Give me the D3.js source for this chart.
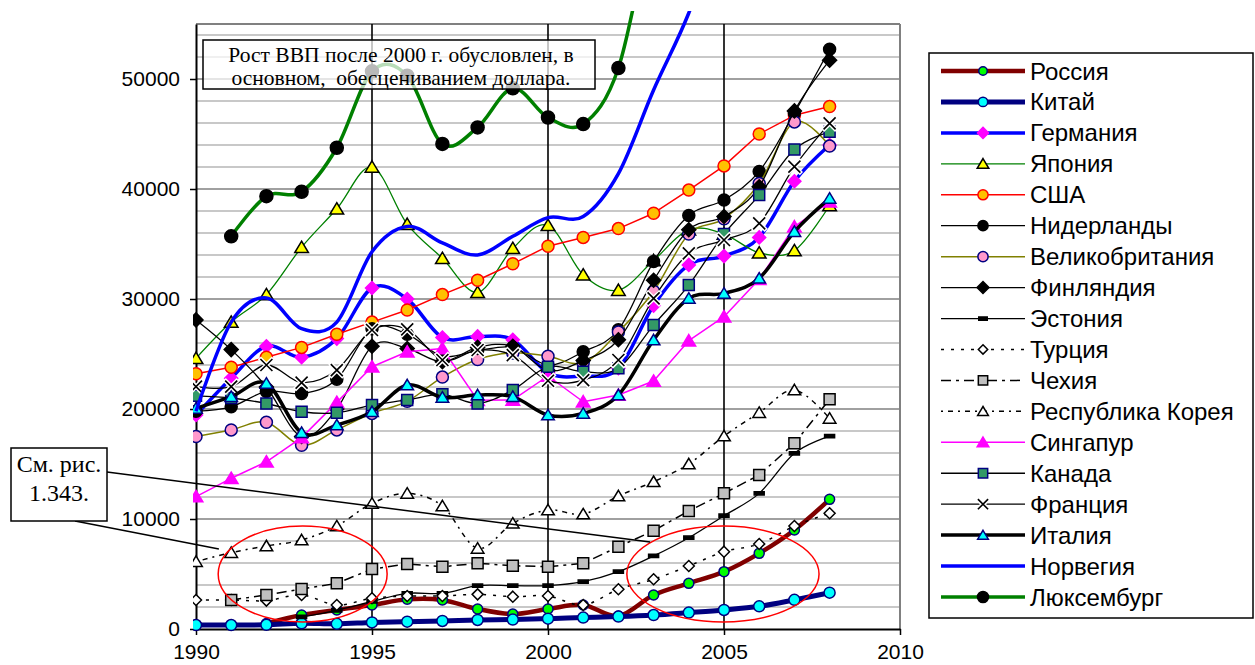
<!DOCTYPE html>
<html>
<head>
<meta charset="utf-8">
<script src="https://cdn.jsdelivr.net/npm/d3@7"></script>
<style>
body { margin: 0; background: #fff; }
svg { display: block; }
text { font-family: Arial, "Liberation Sans", sans-serif; }
text.serif { font-family: "Liberation Serif", "Times New Roman", serif; white-space: pre; }
</style>
</head>
<body>
<div id="chart-area"></div>
<script>
// DATA (ВВП на душу населения, долл.)

let years = [1990, 1991, 1992, 1993, 1994, 1995, 1996, 1997, 1998, 1999, 2000, 2001, 2002, 2003, 2004, 2005, 2006, 2007, 2008]

let russia      = [null, null, 500, 1270, 1730, 2180, 2700, 2640, 1820, 1360, 1820, 2180, 1180, 3090, 4150, 5210, 6880, 9000, 11790]
let china       = [360, 360, 380, 520, 470, 600, 670, 730, 820, 860, 940, 1040, 1130, 1270, 1490, 1730, 2060, 2650, 3300]
let germany     = [19450, 22800, 25700, 24700, 26400, 31000, 30000, 26500, 26600, 26300, 23300, 23000, 23700, 29400, 33100, 33900, 35600, 40700, 44000]
let japan       = [24600, 27900, 30400, 34700, 38200, 42000, 36800, 33700, 30600, 34600, 36700, 32200, 30800, 33500, 36300, 35900, 34200, 34400, 38500]
let usa         = [23200, 23800, 24700, 25600, 26800, 27900, 29000, 30400, 31700, 33200, 34800, 35600, 36400, 37800, 39900, 42100, 45000, 46700, 47500]
let netherlands = [19800, 20200, 21600, 21400, 22700, 27300, 26800, 24800, 25300, 25600, 24000, 25200, 27200, 33400, 37600, 39000, 41600, 46900, 52700]
let uk          = [17500, 18100, 18800, 16700, 18100, 19600, 20700, 22900, 24500, 25100, 24800, 24200, 27000, 30700, 35900, 37300, 40500, 46100, 43900]
let finland     = [28100, 25400, 22000, 17500, 20000, 25700, 25500, 24300, 25600, 25700, 23500, 24400, 26300, 31700, 36300, 37500, 40200, 47100, 51700]
let estonia     = [null, null, null, 1100, 1700, 2500, 3240, 3240, 3940, 3940, 3940, 4300, 5210, 6640, 8300, 10300, 12330, 15970, 17540]
let turkey      = [2640, 2640, 2580, 3090, 2180, 2790, 3000, 3000, 3150, 2940, 3000, 2180, 3610, 4520, 5730, 7030, 7730, 9360, 10520]
let czech       = [null, 2640, 3090, 3640, 4150, 5450, 5910, 5660, 5970, 5760, 5660, 5970, 7480, 8940, 10730, 12330, 14000, 16880, 20880]
let korea       = [6120, 6940, 7550, 8090, 9360, 11420, 12330, 11180, 7330, 9610, 10820, 10450, 12090, 13390, 15000, 17540, 19670, 21730, 19150]
let singapore   = [12030, 13700, 15200, 17400, 20600, 23840, 25200, 25500, 20800, 20820, 23000, 20660, 21270, 22540, 26210, 28390, 31800, 36570, 38840]
let canada      = [21200, 21000, 20500, 19750, 19660, 20360, 20820, 21330, 20510, 21730, 23840, 23390, 23700, 27630, 31270, 35900, 39450, 43600, 45200]
let france      = [22030, 22030, 24000, 22400, 23540, 27180, 27240, 24450, 25360, 24900, 22570, 22630, 24450, 30060, 34150, 35360, 36880, 42030, 45970]
let italy       = [20060, 21120, 22330, 17850, 18540, 19750, 22180, 21060, 21270, 21120, 19450, 19600, 21270, 26270, 30060, 30510, 31880, 36120, 39150]
let norway      = [19800, 27900, 30100, 27300, 27900, 34300, 36600, 35100, 34000, 35700, 37400, 37500, 41400, 49000, 56000, 65000, 72000, 83000, 95000]
let luxembourg  = [null, 35700, 39350, 39750, 43750, 50700, 50300, 44100, 45600, 49150, 46500, 45900, 51000, 65000, 75000, 80000, 90000, 105000, 113000]

let xTicks = [1990, 1995, 2000, 2005, 2010]
let yTicks = [0, 10000, 20000, 30000, 40000, 50000]

let noteText = ["Рост ВВП после 2000 г. обусловлен, в", "основном,  обесцениванием доллара."]
let refText = ["См. рис.", "1.343."]

// series styles, same order as the legend
let series = [
    {name: "Россия", values: russia, color: "#800000", width: 4.5, smooth: true,
        marker: {type: "circle", size: 5, fill: "#00ff00", stroke: "#000080"}},
    {name: "Китай", values: china, color: "#000080", width: 5, smooth: true,
        marker: {type: "circle", size: 5.5, fill: "#00ffff", stroke: "#000080"}},
    {name: "Германия", values: germany, color: "#0000ff", width: 3.5, smooth: true,
        marker: {type: "diamond", size: 6.5, fill: "#ff00ff", stroke: "#ff00ff"}},
    {name: "Япония", values: japan, color: "#008000", width: 1.3, smooth: true,
        marker: {type: "triangle", size: 6.5, fill: "#ffff00", stroke: "#000000"}},
    {name: "США", values: usa, color: "#ff0000", width: 1.5, smooth: false,
        marker: {type: "circle", size: 6, fill: "#ffc000", stroke: "#ff0000"}},
    {name: "Нидерланды", values: netherlands, color: "#000000", width: 1.3, smooth: true,
        marker: {type: "circle", size: 6, fill: "#000000", stroke: "#000000"}},
    {name: "Великобритания", values: uk, color: "#808000", width: 1.5, smooth: true,
        marker: {type: "circle", size: 6, fill: "#ff99cc", stroke: "#000080"}},
    {name: "Финляндия", values: finland, color: "#000000", width: 1.3, smooth: true,
        marker: {type: "diamond", size: 7, fill: "#000000", stroke: "#000000"}},
    {name: "Эстония", values: estonia, color: "#000000", width: 1.3, smooth: true,
        marker: {type: "dash", size: 5, fill: "#000000", stroke: "#000000"}},
    {name: "Турция", values: turkey, color: "#000000", width: 1.5, smooth: true, dash: "3,7",
        marker: {type: "diamond", size: 5.5, fill: "#ffffff", stroke: "#000000"}},
    {name: "Чехия", values: czech, color: "#000000", width: 1.5, smooth: false, dash: "10,5,3,5",
        marker: {type: "square", size: 5.5, fill: "#c0c0c0", stroke: "#000000"}},
    {name: "Республика Корея", values: korea, color: "#000000", width: 1.5, smooth: true, dash: "2,5,5,5",
        marker: {type: "triangle", size: 6, fill: "#ffffff", stroke: "#000000"}},
    {name: "Сингапур", values: singapore, color: "#ff00ff", width: 1.5, smooth: false,
        marker: {type: "triangle", size: 6.5, fill: "#ff00ff", stroke: "#ff00ff"}},
    {name: "Канада", values: canada, color: "#000000", width: 1.3, smooth: true,
        marker: {type: "square", size: 5.5, fill: "#339966", stroke: "#000080"}},
    {name: "Франция", values: france, color: "#000000", width: 1.3, smooth: true,
        marker: {type: "x", size: 6, fill: "none", stroke: "#000000"}},
    {name: "Италия", values: italy, color: "#000000", width: 3.5, smooth: true,
        marker: {type: "triangle", size: 6, fill: "#00ffff", stroke: "#000080"}},
    {name: "Норвегия", values: norway, color: "#0000ff", width: 3.5, smooth: true, marker: null},
    {name: "Люксембург", values: luxembourg, color: "#008000", width: 3.5, smooth: true,
        marker: {type: "circle", size: 6.5, fill: "#000000", stroke: "#000000"}}
]

// CHART AREA

let margin = {top: 24, right: 355, bottom: 36, left: 196},
    width = 1255 - margin.left - margin.right,
    height = 665 - margin.top - margin.bottom;

let svgRoot = d3.select("#chart-area").append("svg")
    .attr("width", 1255)
    .attr("height", 665)

let svg = svgRoot.append("g")
    .attr("transform", "translate(" + margin.left + "," + margin.top + ")");

let x = d3.scaleLinear().domain([1990, 2010]).range([0, width])
let y = d3.scaleLinear().domain([0, 55000]).range([height, 0])

// gridlines
let gridVals = d3.range(2000, 55000, 2000)
svg.selectAll(".grid").data(gridVals).enter()
    .append("line")
    .attr("x1", 0).attr("x2", width)
    .attr("y1", d => y(d)).attr("y2", d => y(d))
    .attr("stroke", d => d % 10000 == 0 ? "#a0a0a0" : "#c8c8c8")
    .attr("stroke-width", 2)

// frame top / right
svg.append("line").attr("x1", 0).attr("x2", width).attr("y1", 0).attr("y2", 0)
    .attr("stroke", "#808080").attr("stroke-width", 2)
svg.append("line").attr("x1", width).attr("x2", width).attr("y1", 0).attr("y2", height)
    .attr("stroke", "#808080").attr("stroke-width", 2)

// vertical lines at 5-year ticks
svg.selectAll(".vgrid").data(xTicks.slice(1, -1)).enter()
    .append("line")
    .attr("x1", d => x(d)).attr("x2", d => x(d))
    .attr("y1", 0).attr("y2", height)
    .attr("stroke", "#000").attr("stroke-width", 1.6)

// axes
let xAxis = svg.append("g")
    .attr("transform", "translate(0," + height + ")")
    .call(d3.axisBottom(x).tickValues(xTicks).tickFormat(d3.format("d")).tickSize(6).tickSizeOuter(0).tickPadding(9))
let yAxis = svg.append("g")
    .call(d3.axisLeft(y).tickValues(yTicks).tickFormat(d3.format("d")).tickSize(6).tickSizeOuter(0).tickPadding(10))

svg.selectAll(".domain").attr("stroke", "#000").attr("stroke-width", 2)
svg.selectAll(".tick line").attr("stroke", "#000").attr("stroke-width", 1.5)
svg.selectAll(".tick text").attr("font-size", 21).attr("fill", "#000")
    .style("font-family", "Arial, 'Liberation Sans', sans-serif")

// clip (lines run out over the top)
svgRoot.append("defs").append("clipPath").attr("id", "plot-clip")
    .append("rect").attr("x", -3).attr("y", -13).attr("width", width + 6).attr("height", height + 16)

let plot = svg.append("g").attr("clip-path", "url(#plot-clip)")

function markerPath(type, s) {
    if (type == "diamond") return "M0," + (-s) + "L" + s + ",0L0," + s + "L" + (-s) + ",0Z"
    if (type == "triangle") return "M0," + (-s * 0.95) + "L" + (s * 1.05) + "," + (s * 0.8) + "L" + (-s * 1.05) + "," + (s * 0.8) + "Z"
    if (type == "square") return "M" + (-s) + "," + (-s) + "H" + s + "V" + s + "H" + (-s) + "Z"
    if (type == "x") return "M" + (-s) + "," + (-s) + "L" + s + "," + s + "M" + (-s) + "," + s + "L" + s + "," + (-s)
    if (type == "dash") return "M" + (-s) + ",-1.6H" + s + "V1.6H" + (-s) + "Z"
    return null
}

function drawMarker(g, m) {
    if (m.type == "circle") {
        g.append("circle").attr("r", m.size).attr("fill", m.fill)
            .attr("stroke", m.stroke).attr("stroke-width", 1.5)
    } else if (m.type == "x") {
        g.append("path").attr("d", markerPath("x", m.size + 1))
            .attr("stroke", "#fff").attr("stroke-width", 4.5).attr("fill", "none")
        g.append("path").attr("d", markerPath("x", m.size))
            .attr("stroke", m.stroke).attr("stroke-width", 1.6).attr("fill", "none")
    } else {
        g.append("path").attr("d", markerPath(m.type, m.size))
            .attr("fill", m.fill).attr("stroke", m.stroke).attr("stroke-width", 1.5)
    }
}

series.forEach(function (s) {
    let pts = years.map((yr, i) => ({year: yr, value: s.values[i]}))
    let line = d3.line()
        .defined(d => d.value != null)
        .x(d => x(d.year))
        .y(d => y(d.value))
        .curve(s.smooth ? d3.curveCatmullRom.alpha(0) : d3.curveLinear)

    let g = plot.append("g")
    g.append("path")
        .datum(pts)
        .attr("d", line)
        .attr("fill", "none")
        .attr("stroke", s.color)
        .attr("stroke-width", s.width)
        .attr("stroke-dasharray", s.dash || null)
        .attr("stroke-linejoin", "round")

    if (s.marker) {
        g.selectAll(".mk").data(pts.filter(d => d.value != null)).enter()
            .append("g")
            .attr("transform", d => "translate(" + x(d.year) + "," + y(d.value) + ")")
            .each(function () { drawMarker(d3.select(this), s.marker) })
    }
})

// annotation box (semi transparent)
let note = svgRoot.append("g")
note.append("rect").attr("x", 203).attr("y", 40).attr("width", 392).attr("height", 49)
    .attr("fill", "#fff").attr("fill-opacity", 0.72).attr("stroke", "#000").attr("stroke-width", 1.5)
note.selectAll("text").data(noteText).enter().append("text")
    .attr("class", "serif")
    .attr("x", 401).attr("y", (d, i) => 62 + i * 22.5)
    .attr("text-anchor", "middle")
    .attr("font-size", 21.5)
    .text(d => d)

// ellipses and pointer lines
let ellipses = [{cx: 1993.03, cy: 5000, rx: 2.4, ry: 4360}, {cx: 2004.97, cy: 5000, rx: 2.73, ry: 4360}]
svg.selectAll(".ell").data(ellipses).enter()
    .append("ellipse")
    .attr("cx", d => x(d.cx)).attr("cy", d => y(d.cy))
    .attr("rx", d => x(1990 + d.rx) - x(1990))
    .attr("ry", d => y(0) - y(d.ry))
    .attr("fill", "none").attr("stroke", "#ff0000").attr("stroke-width", 1.5)

let pointers = [{x0: -89, y0: 448, year: 2002.9, value: 7910}, {x0: -121, y0: 497, year: 1990.65, value: 7270}]
svg.selectAll(".ptr").data(pointers).enter()
    .append("line")
    .attr("x1", d => d.x0).attr("y1", d => d.y0)
    .attr("x2", d => x(d.year)).attr("y2", d => y(d.value))
    .attr("stroke", "#000").attr("stroke-width", 1.5)

let ref = svgRoot.append("g")
ref.append("rect").attr("x", 11).attr("y", 448).attr("width", 96).attr("height", 73)
    .attr("fill", "#fff").attr("stroke", "#000").attr("stroke-width", 1.5)
ref.selectAll("text").data(refText).enter().append("text")
    .attr("class", "serif")
    .attr("x", 59).attr("y", (d, i) => 472 + i * 28.5)
    .attr("text-anchor", "middle")
    .attr("font-size", 24)
    .text(d => d)

// LEGEND
let legend = svgRoot.append("g")
legend.append("rect").attr("x", 929).attr("y", 53).attr("width", 324).attr("height", 565)
    .attr("fill", "#fff").attr("stroke", "#000").attr("stroke-width", 1.5)

let rowH = (597 - 71) / (series.length - 1)
series.forEach(function (s, i) {
    let row = legend.append("g").attr("transform", "translate(0," + (71 + i * rowH) + ")")
    row.append("line").attr("x1", 941).attr("x2", 1025).attr("y1", 0).attr("y2", 0)
        .attr("stroke", s.color).attr("stroke-width", s.width)
        .attr("stroke-dasharray", s.dash || null)
    if (s.marker) {
        let mg = row.append("g").attr("transform", "translate(983,0)")
        drawMarker(mg, Object.assign({}, s.marker, {size: s.marker.size * 0.85}))
    }
    row.append("text").attr("x", 1030).attr("y", 8.5)
        .attr("font-size", 24)
        .text(s.name)
})
</script>
</body>
</html>
